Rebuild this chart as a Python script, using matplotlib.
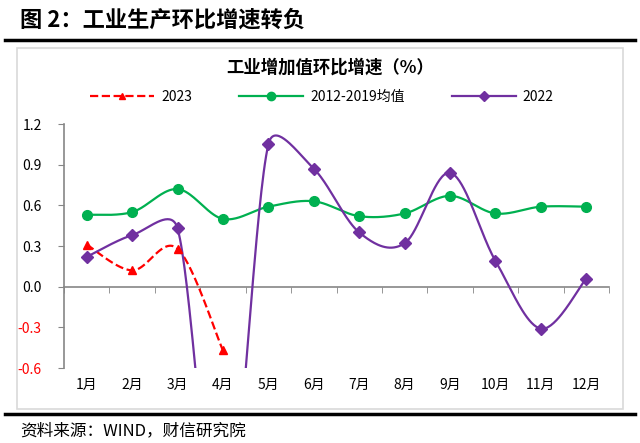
import numpy as np
import matplotlib
matplotlib.use("Agg")
import matplotlib.pyplot as plt
from matplotlib.lines import Line2D
from matplotlib.patches import Rectangle

plt.rcParams['font.family'] = ['Noto Sans CJK SC', 'DejaVu Sans']

# data
months = ['1月', '2月', '3月', '4月', '5月', '6月', '7月', '8月', '9月', '10月', '11月', '12月']
avg_2012_2019 = [0.53, 0.55, 0.72, 0.50, 0.59, 0.63, 0.52, 0.54, 0.67, 0.54, 0.59, 0.59]
y2022 = [0.22, 0.38, 0.43, -2.0, 1.05, 0.87, 0.40, 0.32, 0.84, 0.19, -0.31, 0.06]
y2023 = [0.31, 0.12, 0.28, -0.47]
yticks = [-0.6, -0.3, 0.0, 0.3, 0.6, 0.9, 1.2]

RED = '#FF0000'
GREEN = '#00B050'
PURPLE = '#7030A0'
GRAY = '#868686'

# pixel size of one unit along x / y (for excel-like smoothing)
SX = 545 / 12
SY = 244 / 1.8


def smooth(xs, ys, n=40):
    # bezier smoothing like excel: arms = chord/6, capped at half the segment
    p = np.column_stack([np.asarray(xs, float) * SX, np.asarray(ys, float) * SY])
    out = [p[0]]
    t = np.linspace(0, 1, n)[1:, None]
    for i in range(len(p) - 1):
        p0 = p[max(i - 1, 0)]
        p1 = p[i]
        p2 = p[i + 1]
        p3 = p[min(i + 2, len(p) - 1)]
        half = np.linalg.norm(p2 - p1) / 2
        a = (p2 - p0) / 6
        b = (p3 - p1) / 6
        if np.linalg.norm(a) > half:
            a = a / np.linalg.norm(a) * half
        if np.linalg.norm(b) > half:
            b = b / np.linalg.norm(b) * half
        c1 = p1 + a
        c2 = p2 - b
        seg = (1 - t) ** 3 * p1 + 3 * (1 - t) ** 2 * t * c1 + 3 * (1 - t) * t ** 2 * c2 + t ** 3 * p2
        out.extend(seg)
    out = np.array(out)
    return out[:, 0] / SX, out[:, 1] / SY


fig = plt.figure(figsize=(6.4, 4.43), dpi=100)
ax = fig.add_axes([64 / 640, 1 - 368 / 443, 545 / 640, 244 / 443])

x = np.arange(len(months))

series = [
    (y2023, RED, '^', 6, '--', '2023'),
    (avg_2012_2019, GREEN, 'o', 7, '-', '2012-2019均值'),
    (y2022, PURPLE, 'D', 6, '-', '2022'),
]
handles = []
for vals, col, mk, ms, ls, lab in series:
    xs = x[:len(vals)]
    sx, sy = smooth(xs, vals)
    ax.plot(sx, sy, color=col, lw=1.6, ls=ls, zorder=3)
    ax.plot(xs, vals, ls='none', marker=mk, ms=ms, color=col, zorder=4)
    handles.append(Line2D([], [], color=col, lw=1.6, ls=ls, marker=mk, ms=ms - 1, label=lab))

ax.set_xlim(-0.5, len(months) - 0.5)
ax.set_ylim(-0.6, 1.2)

for s in ['top', 'right']:
    ax.spines[s].set_visible(False)
ax.spines['left'].set_color(GRAY)
ax.spines['bottom'].set_color(GRAY)
ax.spines['bottom'].set_position(('data', 0))
ax.spines['left'].set_linewidth(1.2)
ax.spines['bottom'].set_linewidth(1.2)

ax.set_yticks(yticks)
ax.set_yticklabels(['%.1f' % v for v in yticks], fontsize=10)
for lab, v in zip(ax.get_yticklabels(), yticks):
    lab.set_color(RED if v < 0 else 'black')
ax.tick_params(axis='y', length=4, color=GRAY, pad=12)

ax.set_xticks(x)
ax.set_xticklabels([])
ax.set_xticks(np.arange(len(months) + 1) - 0.5, minor=True)
ax.tick_params(axis='x', which='major', length=0)
ax.tick_params(axis='x', which='minor', length=4, color=GRAY, direction='out')

for xi, m in zip(x, months):
    ax.text(xi, -0.07, m, transform=ax.get_xaxis_transform(), ha='center', va='center', fontsize=10)

ax.legend(handles=handles, ncol=3, frameon=False, loc='center',
          bbox_to_anchor=(322 / 640, 1 - 97 / 443), bbox_transform=fig.transFigure,
          handlelength=4.6, columnspacing=3.4, handletextpad=0.5, fontsize=10)

# chart title inside the frame
fig.text(330 / 640, 1 - 68 / 443, '工业增加值环比增速（%）', fontsize=12.5, fontweight='bold',
         ha='center', va='center')

# frame, header and footer
fig.patches.append(Rectangle((17 / 640, 1 - 409 / 443), 606 / 640, 361 / 443,
                             transform=fig.transFigure, fill=False, ec='#D9D9D9', lw=1.2))
fig.text(20 / 640, 1 - 20 / 443, '图 2：工业生产环比增速转负', fontsize=16, fontweight='bold', va='center')
fig.add_artist(Line2D([5 / 640, 635 / 640], [1 - 40 / 443] * 2, color='black', lw=2.5))
fig.add_artist(Line2D([5 / 640, 635 / 640], [1 - 414 / 443] * 2, color='black', lw=2.5))
fig.text(20 / 640, 1 - 431 / 443, '资料来源：WIND，财信研究院', fontsize=12, style='italic', va='center')

fig.savefig('out.png', dpi=100)
